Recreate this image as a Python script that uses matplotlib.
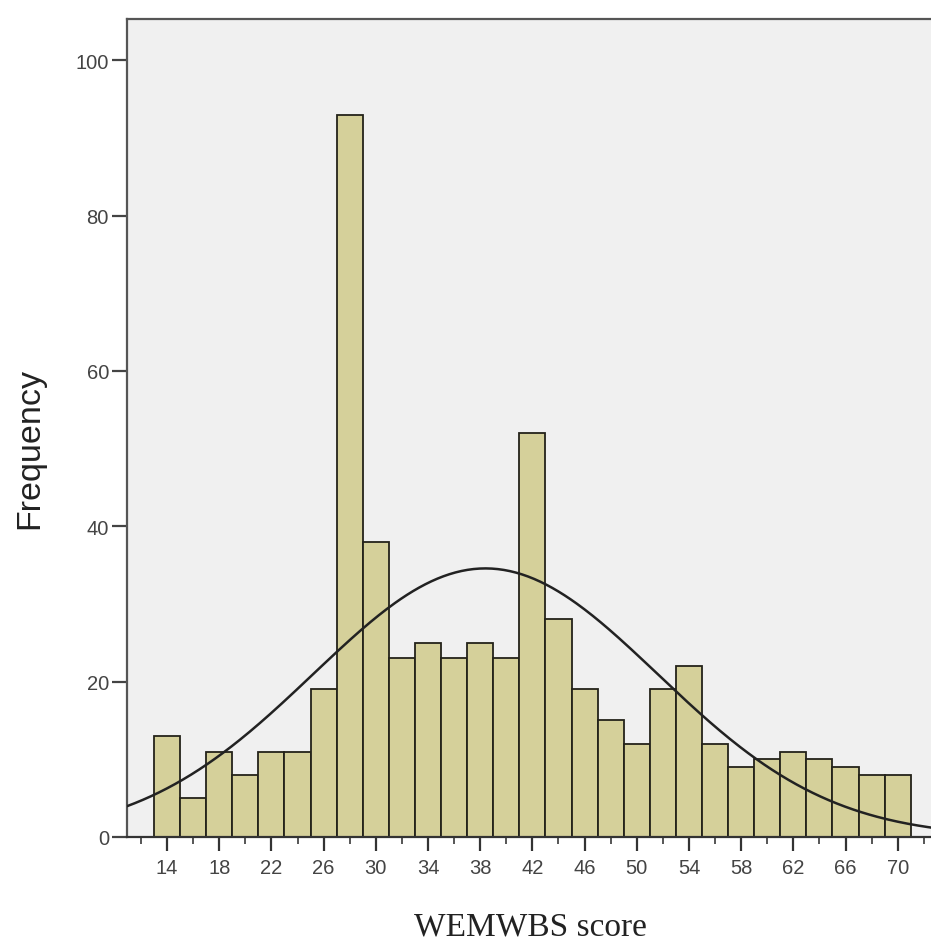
import numpy as np
import matplotlib
matplotlib.use("Agg")
import matplotlib.pyplot as plt
from matplotlib.ticker import FixedLocator

# ---- data ----
bin_centers = [14, 16, 18, 20, 22, 24, 26, 28, 30, 32, 34, 36, 38, 40, 42,
               44, 46, 48, 50, 52, 54, 56, 58, 60, 62, 64, 66, 68, 70]
frequencies = [13, 5, 11, 8, 11, 11, 19, 93, 38, 23, 25, 23, 25, 23, 52,
               28, 19, 15, 12, 19, 22, 12, 9, 10, 11, 10, 9, 8, 8]
bin_width = 2
x_ticks = [14, 18, 22, 26, 30, 34, 38, 42, 46, 50, 54, 58, 62, 66, 70]
x_minor_ticks = [12, 16, 20, 24, 28, 32, 36, 40, 44, 48, 52, 56, 60, 64, 68, 72]
y_ticks = [0, 20, 40, 60, 80, 100]
curve_mean = 38.4
curve_sd = 13.2

fig = plt.figure(figsize=(9.31, 9.45), dpi=100)
ax = fig.add_axes([127/931, (945-838)/945, 1 - 127/931, (838-20)/945])
ax.set_facecolor("#f0f0f0")

ax.bar(bin_centers, frequencies, width=bin_width, align="center",
       color="#d5d09a", edgecolor="#24231a", linewidth=1.3, zorder=2)

n_total = sum(frequencies)
xs = np.linspace(10.9, 72.6, 400)
ys = n_total * bin_width / (curve_sd * np.sqrt(2 * np.pi)) * np.exp(-0.5 * ((xs - curve_mean) / curve_sd) ** 2)
ax.plot(xs, ys, color="#222222", linewidth=1.8, zorder=3)

ax.set_xlim(10.93, 72.55)
ax.set_ylim(0, 105.3)

ax.set_xticks(x_ticks)
ax.xaxis.set_minor_locator(FixedLocator(x_minor_ticks))
ax.set_yticks(y_ticks)

for s in ["left", "bottom", "top"]:
    ax.spines[s].set_color("#555555")
    ax.spines[s].set_linewidth(1.6)
ax.spines["right"].set_visible(False)
ax.spines["bottom"].set_color("#333333")

ax.tick_params(axis="x", which="major", length=10, width=1.6, color="#333333",
               labelsize=14.5, labelcolor="#444444", pad=5)
ax.tick_params(axis="x", which="minor", length=5, width=1.4, color="#555555")
ax.tick_params(axis="y", which="major", length=11, width=1.6, color="#444444",
               labelsize=14.5, labelcolor="#444444", pad=2)
for lab in ax.get_xticklabels() + ax.get_yticklabels():
    lab.set_family("Liberation Sans")

fig.text(30/931, 1 - 449/945, "Frequency", rotation=90, ha="center", va="center",
         fontsize=24.5, family="Liberation Sans", color="#222222")
fig.text(530/931, 1 - 927/945, "WEMWBS score", ha="center", va="center",
         fontsize=24, family="Liberation Serif", color="#222222")

fig.savefig("out.png", dpi=100)
